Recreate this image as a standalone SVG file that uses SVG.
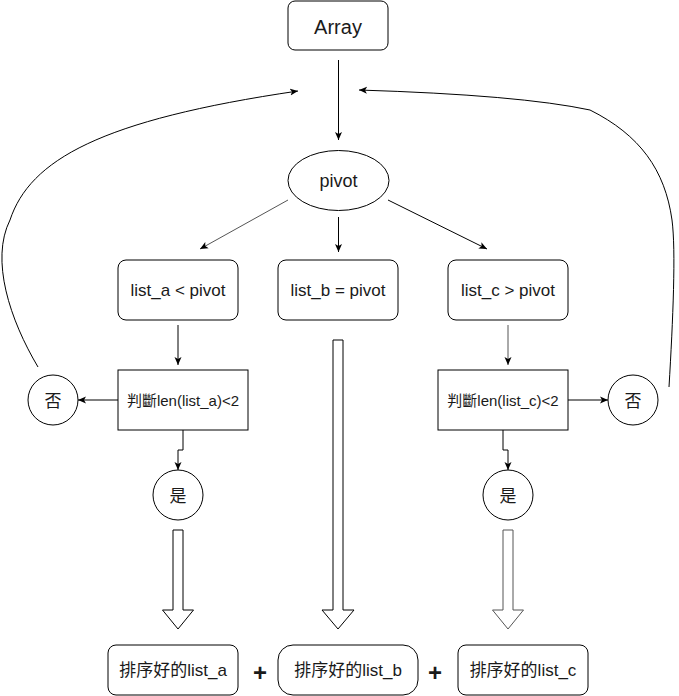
<svg xmlns="http://www.w3.org/2000/svg" width="679" height="696" viewBox="0 0 679 696">
<style>
.box{fill:#fff;stroke:#000;stroke-width:1}
.t{font-family:"Liberation Sans","Noto Sans CJK TC",Arial,sans-serif;fill:#1a1a1a;text-anchor:middle}
.c{fill:none;stroke:#000;stroke-width:1}
.g{stroke:#555}
.h{fill:#fff;stroke:#000;stroke-width:1}
</style>
<defs>
<marker id="ah" viewBox="0 0 8 8" markerWidth="8" markerHeight="8" refX="8" refY="4" orient="auto" markerUnits="userSpaceOnUse">
<path d="M0,0.5 L8,4 L0,7.5 L2,4 z" fill="#000"/>
</marker>
</defs>
<rect width="679" height="696" fill="#fff"/>
<g id="connectors">
<path class="c" d="M338.5,60 L338.5,140" marker-end="url(#ah)"/>
<path class="c g" d="M288,200 L200,249" marker-end="url(#ah)"/>
<path class="c" d="M338.5,217 L338.5,252" marker-end="url(#ah)"/>
<path class="c" d="M388,200 L487,249" marker-end="url(#ah)"/>
<path class="c" d="M178,325 L178,365" marker-end="url(#ah)"/>
<path class="c g" d="M508,325 L508,365" marker-end="url(#ah)"/>
<path class="c" d="M118,400 L78,400" marker-end="url(#ah)"/>
<path class="c" d="M568,400 L608,400" marker-end="url(#ah)"/>
<path class="c" d="M183,430 L183,450 L178,450 L178,470" marker-end="url(#ah)"/>
<path class="c" d="M503,430 L503,450 L508,450 L508,470" marker-end="url(#ah)"/>
<path class="c" d="M38,367 C10,320 -10,260 10,220 C30,160 100,120 298,91" marker-end="url(#ah)"/>
<path class="c" d="M669,387 C673,320 676,250 672,220 C665,170 640,135 590,110 Q520,95 359,90" marker-end="url(#ah)"/>
<path class="h" d="M173,530 L183,530 L183,610 L193.5,610 L178,629 L162.5,610 L173,610 Z"/>
<path class="h" d="M333,340 L343,340 L343,610 L354,610 L338,629 L322,610 L333,610 Z"/>
<path class="h" style="stroke:#555" d="M503,530 L513,530 L513,610 L523.5,610 L508,629 L492.5,610 L503,610 Z"/>
</g>
<g id="array"><rect class="box" x="288" y="1" width="100" height="49" rx="7"/><text class="t" x="338" y="34" font-size="20">Array</text></g>
<g id="pivot"><ellipse class="box" cx="338.5" cy="180.5" rx="50.5" ry="30"/><text class="t" x="338.5" y="187" font-size="18">pivot</text></g>
<g id="list_a"><rect class="box" x="118" y="260" width="120" height="60" rx="8"/><text class="t" x="178" y="296" font-size="17">list_a &lt; pivot</text></g>
<g id="list_b"><rect class="box" x="278" y="260" width="120" height="60" rx="8"/><text class="t" x="338" y="296" font-size="17">list_b = pivot</text></g>
<g id="list_c"><rect class="box" x="448" y="260" width="120" height="60" rx="8"/><text class="t" x="508" y="296" font-size="17">list_c &gt; pivot</text></g>
<g id="judge_a"><rect class="box" x="118" y="370" width="130" height="60"/><text class="t" x="183" y="405.5" font-size="15">判斷len(list_a)&lt;2</text></g>
<g id="judge_c"><rect class="box" x="438" y="370" width="130" height="60"/><text class="t" x="503" y="405.5" font-size="15">判斷len(list_c)&lt;2</text></g>
<g id="no_a"><circle class="box" cx="53" cy="400" r="25"/><text class="t" x="53" y="406.5" font-size="17">否</text></g>
<g id="no_c"><circle class="box" cx="633" cy="400" r="25"/><text class="t" x="633" y="406.5" font-size="17">否</text></g>
<g id="yes_a"><circle class="box" cx="178" cy="495" r="25"/><text class="t" x="178" y="501.5" font-size="17">是</text></g>
<g id="yes_c"><circle class="box" cx="508" cy="495" r="25"/><text class="t" x="508" y="501.5" font-size="17">是</text></g>
<g id="sorted_a"><rect class="box" x="108" y="645" width="130" height="50" rx="8"/><text class="t" x="173" y="676" font-size="17">排序好的list_a</text></g>
<g id="sorted_b"><rect class="box" x="278" y="645" width="140" height="50" rx="15"/><text class="t" x="348" y="676" font-size="17">排序好的list_b</text></g>
<g id="sorted_c"><rect class="box" x="458" y="645" width="130" height="50" rx="8"/><text class="t" x="523" y="676" font-size="17">排序好的list_c</text></g>
<g id="plus1"><text class="t" x="260" y="681" font-size="24" font-weight="bold">+</text></g>
<g id="plus2"><text class="t" x="435" y="681" font-size="24" font-weight="bold">+</text></g>
</svg>
